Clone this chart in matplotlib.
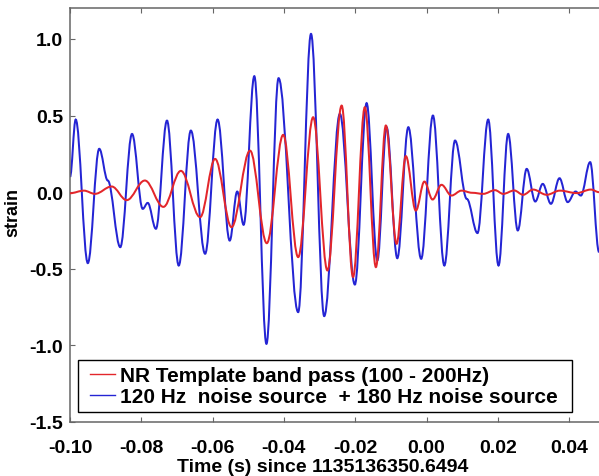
import matplotlib
matplotlib.use("Agg")
import matplotlib.pyplot as plt
from matplotlib.path import Path
from matplotlib.patches import PathPatch
from matplotlib.lines import Line2D
from matplotlib.legend_handler import HandlerLine2D

# ---- data (times in s, strain) ----
# blue: 120 Hz + 180 Hz noise sources (start, extrema / shoulders, end)
blue_t = [-0.1000, -0.0984, -0.0950, -0.0918, -0.0894, -0.0859, -0.0826, -0.0796,
          -0.0782, -0.0759, -0.0728, -0.0695, -0.0661, -0.0621, -0.0586, -0.0552,
          -0.0531, -0.0513, -0.0483, -0.0449, -0.0415, -0.0360, -0.0324, -0.0287,
          -0.0243, -0.0201, -0.0168, -0.0138, -0.0112, -0.0082, -0.0051, -0.0015,
          0.0018, 0.0050, 0.0080, 0.0113, 0.0143, 0.0173, 0.0202, 0.0229,
          0.0256, 0.0281, 0.0305, 0.0326, 0.0349, 0.0373, 0.0396, 0.0418,
          0.0433, 0.0459, 0.0484]
blue_y = [0.10, 0.474, -0.463, 0.283, 0.076, -0.359, 0.380, -0.109,
          -0.070, -0.239, 0.467, -0.479, 0.402, -0.402, 0.474, -0.316,
          0.004, -0.213, 0.757, -0.990, 0.744, -0.783, 1.033, -0.809,
          0.511, -0.603, 0.581, -0.446, 0.424, -0.431, 0.424, -0.435,
          0.500, -0.479, 0.337, -0.044, -0.267, 0.474, -0.479, 0.380,
          -0.250, 0.152, -0.061, 0.054, -0.076, 0.091, -0.065, 0.004,
          -0.022, 0.196, -0.391]

# red: NR template band pass (100 - 200 Hz)
red_t = [-0.1000, -0.0961, -0.0930, -0.0883, -0.0841, -0.0790, -0.0738, -0.0689,
         -0.0635, -0.0593, -0.0547, -0.0495, -0.0448, -0.0402, -0.0360, -0.0318,
         -0.0278, -0.0238, -0.0206, -0.0173, -0.0142, -0.0114, -0.0084, -0.0058,
         -0.0030, -0.0006, 0.0017, 0.0042, 0.0070, 0.0098, 0.0128, 0.0159,
         0.0192, 0.0215, 0.0246, 0.0271, 0.0299, 0.0337, 0.0374, 0.0421,
         0.0461, 0.0484]
red_y = [-0.007, 0.010, -0.011, 0.037, -0.052, 0.076, -0.096, 0.139,
         -0.163, 0.217, -0.228, 0.271, -0.333, 0.374, -0.424, 0.489,
         -0.511, 0.565, -0.554, 0.554, -0.489, 0.435, -0.337, 0.235,
         -0.120, 0.069, -0.048, 0.048, -0.022, 0.010, -0.004, -0.011,
         0.013, -0.011, 0.011, -0.017, 0.017, -0.017, 0.010, -0.006,
         0.017, 0.000]

labels = ["NR Template band pass (100 - 200Hz)",
          "120 Hz  noise source  + 180 Hz noise source"]
x_ticks = [-0.10, -0.08, -0.06, -0.04, -0.02, 0.00, 0.02, 0.04]
y_ticks = [-1.5, -1.0, -0.5, 0.0, 0.5, 1.0]

RED = "#e3262b"
BLUE = "#2424d4"
LW = 1.45

plt.rcParams["font.family"] = ["Liberation Sans", "DejaVu Sans"]
plt.rcParams["font.weight"] = "bold"

fig = plt.figure(figsize=(5.99, 4.77), dpi=100)
ax = fig.add_axes([70 / 599, 1 - 423 / 477, 1 - 70 / 599, (423 - 9.3) / 477])


def smooth_path(ts, ys):
    """Bezier path through read extrema with horizontal tangents."""
    k = 0.3642
    verts = [(ts[0], ys[0])]
    codes = [Path.MOVETO]
    for i in range(len(ts) - 1):
        t0, y0, t1, y1 = ts[i], ys[i], ts[i + 1], ys[i + 1]
        dt = t1 - t0
        verts += [(t0 + k * dt, y0), (t1 - k * dt, y1), (t1, y1)]
        codes += [Path.CURVE4] * 3
    return Path(verts, codes)


ax.add_patch(PathPatch(smooth_path(blue_t, blue_y), facecolor="none",
                       edgecolor=BLUE, lw=LW, zorder=2))
ax.add_patch(PathPatch(smooth_path(red_t, red_y), facecolor="none",
                       edgecolor=RED, lw=LW, zorder=3))

ax.set_xlim(-0.10, 0.04838)
ax.set_ylim(-1.5, 1.2)
ax.set_xticks(x_ticks)
ax.set_xticklabels([f"{v:.2f}" for v in x_ticks])
ax.set_yticks(y_ticks)
ax.set_yticklabels([f"{v:.1f}" for v in y_ticks])

for side in ["left", "top", "bottom"]:
    ax.spines[side].set_color("#666666")
    ax.spines[side].set_linewidth(1.1)
ax.spines["right"].set_visible(False)

ax.tick_params(axis="both", direction="in", length=3.5, width=0.8,
               color="#666666", labelsize=14, top=True, right=False)
ax.tick_params(axis="x", pad=12)
ax.tick_params(axis="y", pad=5)
for lab in ax.get_xticklabels() + ax.get_yticklabels():
    lab.set_fontweight("bold")

ax.set_xlabel("Time (s) since 1135136350.6494", fontsize=14, fontweight="bold")
ax.xaxis.label.set_verticalalignment("baseline")
ax.xaxis.set_label_coords((323 - 70) / 529, (423 - 472) / 413.7)
ax.set_ylabel("strain", fontsize=13, fontweight="bold")
ax.yaxis.set_label_coords((21 - 70) / 529, 0.51)

fs_px = 15 * 100 / 72
handles = [Line2D([], [], color=RED, lw=1.0), Line2D([], [], color=BLUE, lw=1.0)]
leg = ax.legend(handles, labels, loc="lower left",
                bbox_to_anchor=(0.0151, 0.0234, (572 - 78) / 529, 0.2),
                mode="expand", borderaxespad=0, fancybox=False, framealpha=1,
                edgecolor="black", prop={"size": 15, "weight": "bold"},
                handlelength=(115 - 84) / fs_px, handletextpad=0.25,
                labelspacing=0.1, borderpad=0.3,
                handler_map={Line2D: HandlerLine2D(xpad=6 / fs_px)})
leg.get_frame().set_linewidth(1.0)

fig.savefig("out.png", dpi=100)
